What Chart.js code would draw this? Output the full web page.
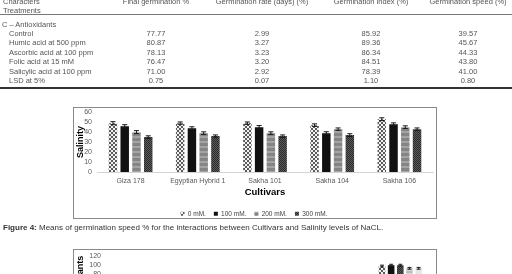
<!DOCTYPE html>
<html>
<head>
<meta charset="utf-8">
<script src="https://cdn.jsdelivr.net/npm/chart.js@4.4.1/dist/chart.umd.min.js"></script>
<style>
  html, body { margin: 0; padding: 0; background: #fff; }
  body { width: 512px; height: 274px; overflow: hidden; position: relative;
         font-family: 'Liberation Sans', Arial, sans-serif; }
  #table { position: absolute; left: 0; top: 0; width: 512px; height: 90px; transform: translateZ(0); }
  .cell { position: absolute; font-size: 7.5px; line-height: 9px; color: #555; white-space: nowrap; }
  .num  { transform: translateX(-50%); }
  .rule { position: absolute; left: 0; width: 512px; }
  .box  { position: absolute; border: 1px solid #8a8a8a; }
  .wrap { position: absolute; }
  #caption { position: absolute; left: 3px; top: 223px; font-size: 8px; line-height: 10px; color: #333;
             white-space: nowrap; transform: translateZ(0); }
</style>
</head>
<body>
<div class="rule" style="top:14px;border-top:1px solid #777;"></div>
<div class="rule" style="top:87px;border-top:2px solid #333;"></div>
<div id="table"></div>

<div class="box" style="left:73px;top:107px;width:362px;height:110px;"></div>
<div class="wrap" style="left:74px;top:103px;width:362px;height:124px;"><canvas id="c-salinity"></canvas></div>

<div id="caption"><b>Figure 4:</b> Means of germination speed % for the interactions between Cultivars and Salinity levels of NaCL.</div>

<div class="box" style="left:73px;top:249px;width:362px;height:140px;"></div>
<div class="wrap" style="left:74px;top:247px;width:362px;height:120px;"><canvas id="c-antiox"></canvas></div>

<script>
// ── TABLE DATA ─────────────────────────────────────────────────────────────

const tableHeaders   = ['Final germination %', 'Germination rate (days) (%)', 'Germination index (%)', 'Germination speed (%)'];
const treatments     = ['Control', 'Humic acid at 500 ppm', 'Ascorbic acid at 100 ppm', 'Folic acid at 15 mM', 'Salicylic acid at 100 ppm', 'LSD at 5%'];
const finalGerm      = ['77.77', '80.87', '78.13', '76.47', '71.00', '0.75'];
const germRate       = ['2.99', '3.27', '3.23', '3.20', '2.92', '0.07'];
const germIndex      = ['85.92', '89.36', '86.34', '84.51', '78.39', '1.10'];
const germSpeed      = ['39.57', '45.67', '44.33', '43.80', '41.00', '0.80'];

// ── CHART DATA ─────────────────────────────────────────────────────────────

const cultivars      = ['Giza 178', 'Egyptian Hybrid 1', 'Sakha 101', 'Sakha 104', 'Sakha 106'];
const salinityLevels = ['0 mM.', '100 mM.', '200 mM.', '300 mM.'];
const speed0mM       = [49, 49, 49, 47, 53];
const speed100mM     = [46, 44, 45, 39, 48];
const speed200mM     = [40, 39, 39, 43, 45];
const speed300mM     = [35, 36, 36, 37, 43];
const err0mM         = [1.5, 1.2, 1.2, 1.3, 1.4];
const err100mM       = [1.5, 1.4, 1.6, 1.4, 1.3];
const err200mM       = [1.5, 1.3, 1.3, 1.2, 1.3];
const err300mM       = [1.3, 1.2, 1.2, 1.4, 1.2];
const salinityTicks  = [0, 10, 20, 30, 40, 50, 60];

const antioxidants   = ['Control', 'Humic acid', 'Ascorbic acid', 'Folic acid', 'Salicylic acid'];
const antiControl    = [66, 70, 68, 64, 98];
const antiHumic      = [70, 74, 72, 68, 100];
const antiAscorbic   = [68, 72, 70, 66, 100];
const antiFolic      = [64, 68, 66, 62, 93];
const antiSalicylic  = [60, 64, 62, 58, 93];
const antiErr        = [2, 2, 2, 2, 2];
const antioxTicks    = [0, 20, 40, 60, 80, 100, 120];

// ── TABLE ──────────────────────────────────────────────────────────────────

const tbl = document.getElementById('table');
function addCell(text, x, yMid, centred) {
  const d = document.createElement('div');
  d.className = 'cell' + (centred ? ' num' : '');
  d.textContent = text;
  d.style.left = x + 'px';
  d.style.top  = (yMid - 4.5) + 'px';
  tbl.appendChild(d);
}
const colX = [156, 262, 371, 468];
addCell('Characters', 3, 1.5, false);
addCell('Treatments', 3, 10.7, false);
tableHeaders.forEach((h, i) => addCell(h, colX[i], 1.5, true));
addCell('C – Antioxidants', 2, 24.3, false);
treatments.forEach((t, r) => {
  const y = 33.3 + r * 9.5;
  addCell(t, 9, y, false);
  [finalGerm, germRate, germIndex, germSpeed].forEach((col, i) => addCell(col[r], colX[i], y, true));
});

// ── PATTERNS ───────────────────────────────────────────────────────────────

function makePattern(ctx, w, h, draw) {
  const c = document.createElement('canvas');
  c.width = w; c.height = h;
  draw(c.getContext('2d'));
  return ctx.createPattern(c, 'repeat');
}
function fills(ctx) {
  return {
    hatch: makePattern(ctx, 4, 4, g => {
      g.fillStyle = '#f2f2f2'; g.fillRect(0, 0, 4, 4);
      g.fillStyle = '#5a5a5a';
      for (let i = 0; i < 4; i++) { g.fillRect(i, i, 1, 1); g.fillRect(3 - i, i, 1, 1); }
    }),
    black: '#111111',
    stripe: makePattern(ctx, 1, 5, g => {
      g.fillStyle = '#858585'; g.fillRect(0, 0, 1, 5);
      g.fillStyle = '#a4a4a4'; g.fillRect(0, 3, 1, 2);
    }),
    checker: makePattern(ctx, 2, 2, g => {
      g.fillStyle = '#2a2a2a'; g.fillRect(0, 0, 2, 2);
      g.fillStyle = '#5c5c5c'; g.fillRect(0, 0, 1, 1); g.fillRect(1, 1, 1, 1);
    }),
    light: makePattern(ctx, 1, 4, g => {
      g.fillStyle = '#bdbdbd'; g.fillRect(0, 0, 1, 4);
      g.fillStyle = '#d6d6d6'; g.fillRect(0, 2, 1, 2);
    }),
  };
}

// ── ERROR BARS ─────────────────────────────────────────────────────────────

const errorBarPlugin = {
  id: 'errorBars',
  afterDatasetsDraw(chart) {
    const { ctx, scales: { y } } = chart;
    ctx.save();
    ctx.strokeStyle = '#1a1a1a';
    ctx.lineWidth = 1;
    chart.data.datasets.forEach((ds, i) => {
      if (!ds.errors) return;
      chart.getDatasetMeta(i).data.forEach((bar, j) => {
        const v = ds.data[j], e = ds.errors[j];
        const top = y.getPixelForValue(v + e), bot = y.getPixelForValue(v - e);
        const half = bar.width * 0.3;
        ctx.beginPath();
        ctx.moveTo(bar.x, top); ctx.lineTo(bar.x, bot);
        ctx.moveTo(bar.x - half, top); ctx.lineTo(bar.x + half, top);
        ctx.moveTo(bar.x - half, bot); ctx.lineTo(bar.x + half, bot);
        ctx.stroke();
      });
    });
    ctx.restore();
  },
};

// ── SHARED STYLE ───────────────────────────────────────────────────────────

Chart.defaults.font.family = "'Liberation Sans', Arial, sans-serif";
Chart.defaults.animation = false;

const TICK_STYLE  = { color: '#595959', font: { size: 7 } };
const TITLE_STYLE = { color: '#000', font: { size: 9, weight: 'bold' } };

// y-tick padding also pads the top of the plot (label half-height + padding),
// so the canvases sit a few px above their frames to compensate.
function barOptions(yTicks, yMax, yTitle, yWidth, xHeight) {
  return {
    responsive: true,
    maintainAspectRatio: false,
    layout: { padding: { top: 0, left: 1, right: 3, bottom: 0 } },
    plugins: {
      legend: {
        position: 'bottom',
        labels: { boxWidth: 4, boxHeight: 4, padding: 8, color: '#404040', font: { size: 6.5 } },
      },
      tooltip: { enabled: false },
    },
    datasets: { bar: { categoryPercentage: 0.7, barPercentage: 0.72 } },
    scales: {
      x: {
        grid: { display: false, drawTicks: false },
        border: { display: true, color: '#d4d4d4' },
        ticks: { ...TICK_STYLE, padding: 5, maxRotation: 0, autoSkip: false },
        title: { display: true, text: 'Cultivars', color: '#000', font: { size: 9.5, weight: 'bold' }, padding: { top: 0, bottom: 4 } },
        afterFit: s => { s.height = xHeight; },
      },
      y: {
        min: 0, max: yMax,
        grid: { display: false, drawTicks: false },
        border: { display: false },
        afterBuildTicks: s => { s.ticks = yTicks.map(v => ({ value: v })); },
        ticks: { ...TICK_STYLE, padding: 5, autoSkip: false },
        title: { display: true, text: yTitle, ...TITLE_STYLE, padding: 0 },
        afterFit: s => { s.width = yWidth; },
      },
    },
  };
}

// ── CHART 1: SALINITY ──────────────────────────────────────────────────────

const ctx1 = document.getElementById('c-salinity').getContext('2d');
const f1 = fills(ctx1);
new Chart(ctx1, {
  type: 'bar',
  data: {
    labels: cultivars,
    datasets: [
      { label: salinityLevels[0], data: speed0mM,   errors: err0mM,   backgroundColor: f1.hatch },
      { label: salinityLevels[1], data: speed100mM, errors: err100mM, backgroundColor: f1.black },
      { label: salinityLevels[2], data: speed200mM, errors: err200mM, backgroundColor: f1.stripe },
      { label: salinityLevels[3], data: speed300mM, errors: err300mM, backgroundColor: f1.checker },
    ],
  },
  options: barOptions(salinityTicks, 60, 'Salinity', 22, 30.5),
  plugins: [errorBarPlugin],
});

// ── CHART 2: ANTIOXIDANTS (cut off by the page edge) ───────────────────────

const ctx2 = document.getElementById('c-antiox').getContext('2d');
const f2 = fills(ctx2);
new Chart(ctx2, {
  type: 'bar',
  data: {
    labels: cultivars,
    datasets: [
      { label: antioxidants[0], data: antiControl,   errors: antiErr, backgroundColor: f2.hatch },
      { label: antioxidants[1], data: antiHumic,     errors: antiErr, backgroundColor: f2.black },
      { label: antioxidants[2], data: antiAscorbic,  errors: antiErr, backgroundColor: f2.checker },
      { label: antioxidants[3], data: antiFolic,     errors: antiErr, backgroundColor: f2.light },
      { label: antioxidants[4], data: antiSalicylic, errors: antiErr, backgroundColor: '#e6e6e6' },
    ],
  },
  options: barOptions(antioxTicks, 120, 'Antioxidants', 31, 32.5),
  plugins: [errorBarPlugin],
});
</script>
</body>
</html>
